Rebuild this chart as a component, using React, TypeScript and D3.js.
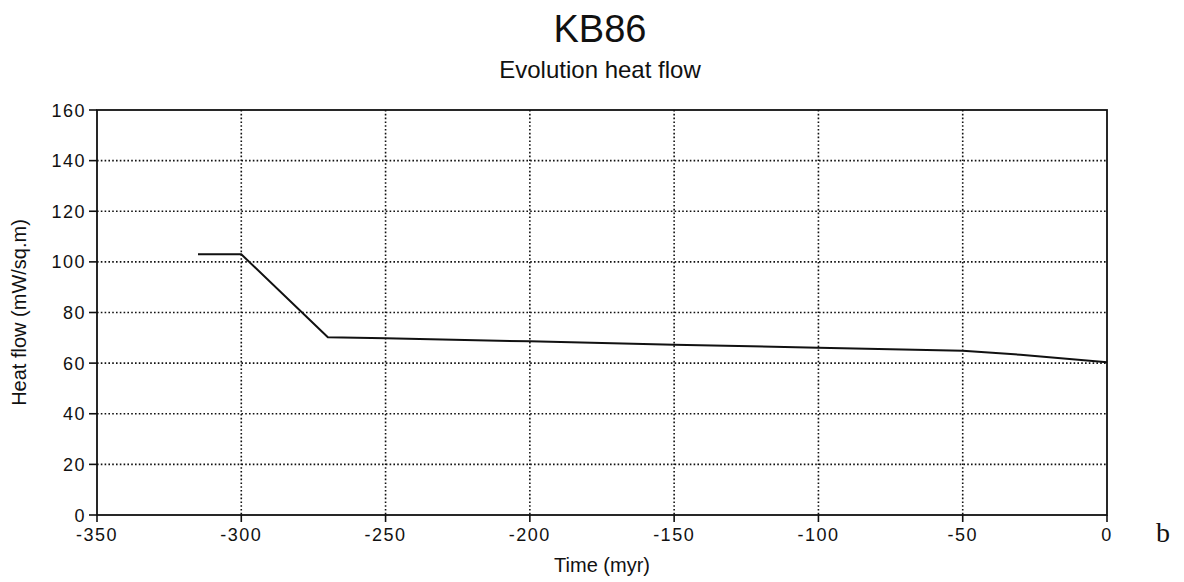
import React from "react";
import * as d3 from "d3";

const timeMyr = [-315, -300, -270, -250, -200, -150, -100, -50, -30, 0];
const heatFlow = [103, 103, 70.2, 69.8, 68.6, 67.3, 66.1, 64.9, 63.3, 60.3];
const xTicks = [-350, -300, -250, -200, -150, -100, -50, 0];
const yTicks = [0, 20, 40, 60, 80, 100, 120, 140, 160];
const xTickLabels = ["-350", "-300", "-250", "-200", "-150", "-100", "-50", "0"];

const W = 1184;
const H = 582;
const left = 97;
const right = 1107;
const top = 110;
const bottom = 515;

export default function App() {
  const x = d3.scaleLinear().domain([-350, 0]).range([left, right]);
  const y = d3.scaleLinear().domain([0, 160]).range([bottom, top]);
  const pts = timeMyr.map((t, i) => [t, heatFlow[i]] as [number, number]);
  const line = d3
    .line<[number, number]>()
    .x((d) => x(d[0]))
    .y((d) => y(d[1]));
  const font = "'Liberation Sans', Arial, Helvetica, sans-serif";
  return (
    <svg
      width={W}
      height={H}
      style={{ position: "absolute", left: 0, top: 0, background: "#fff" }}
      fontFamily={font}
    >
      <text x={600} y={42} textAnchor="middle" fontSize={38} fill="#111">
        KB86
      </text>
      <text x={600} y={78} textAnchor="middle" fontSize={24} fill="#111">
        Evolution heat flow
      </text>
      {/* grid */}
      {yTicks
        .filter((v) => v > 0 && v < 160)
        .map((v) => (
          <line
            key={"gy" + v}
            x1={left}
            x2={right}
            y1={y(v)}
            y2={y(v)}
            stroke="#111"
            strokeWidth={1.6}
            strokeDasharray="1.6,2.2"
          />
        ))}
      {xTicks
        .filter((v) => v > -350 && v < 0)
        .map((v) => (
          <line
            key={"gx" + v}
            x1={x(v)}
            x2={x(v)}
            y1={top}
            y2={bottom}
            stroke="#111"
            strokeWidth={1.6}
            strokeDasharray="1.6,2.2"
          />
        ))}
      {/* frame */}
      <rect
        x={left}
        y={top}
        width={right - left}
        height={bottom - top}
        fill="none"
        stroke="#111"
        strokeWidth={1.8}
      />
      {/* y ticks */}
      {yTicks.map((v) => (
        <g key={"yt" + v}>
          <line x1={left - 8} x2={left} y1={y(v)} y2={y(v)} stroke="#111" strokeWidth={1.6} />
          <text
            x={left - 11}
            y={y(v) + 6.5}
            textAnchor="end"
            fontSize={18}
            letterSpacing={1.5}
            fill="#111"
          >
            {v}
          </text>
        </g>
      ))}
      {/* x ticks */}
      {xTicks.map((v, i) => (
        <g key={"xt" + v}>
          <line x1={x(v)} x2={x(v)} y1={bottom} y2={bottom + 7} stroke="#111" strokeWidth={1.6} />
          <text
            x={x(v)}
            y={541}
            textAnchor="middle"
            fontSize={18}
            letterSpacing={1.5}
            fill="#111"
          >
            {xTickLabels[i]}
          </text>
        </g>
      ))}
      {/* data line */}
      <path d={line(pts) || ""} fill="none" stroke="#111" strokeWidth={2} />
      {/* axis titles */}
      <text x={602} y={572} textAnchor="middle" fontSize={20} fill="#111">
        Time (myr)
      </text>
      <text
        transform={`translate(26, ${(top + bottom) / 2}) rotate(-90)`}
        textAnchor="middle"
        fontSize={20}
        fill="#111"
      >
        Heat flow (mW/sq.m)
      </text>
      <text x={1163} y={542} textAnchor="middle" fontSize={28} fontFamily="'Liberation Serif', 'Times New Roman', serif" fill="#111">
        b
      </text>
    </svg>
  );
}
